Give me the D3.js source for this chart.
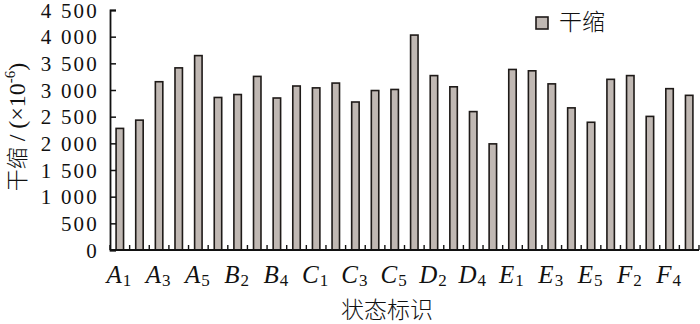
<!DOCTYPE html>
<html>
<head>
<meta charset="utf-8">
<script src="https://cdn.jsdelivr.net/npm/d3@7"></script>
<style>
  body { margin: 0; background: #fff; }
  svg { display: block; }
</style>
</head>
<body>
<svg width="700" height="324"></svg>
<script>
    // categories: A1..F5
    const groups = ['A', 'B', 'C', 'D', 'E', 'F'];
    const categories = groups.flatMap(g => [1, 2, 3, 4, 5].map(n => g + n));
    // dry shrinkage (x10^-6)
    const shrinkage = [
        2280, 2435, 3155, 3415, 3645,
        2860, 2915, 3255, 2850, 3075,
        3040, 3130, 2775, 2990, 3010,
        4030, 3270, 3060, 2595, 1990,
        3385, 3360, 3115, 2665, 2395,
        3200, 3270, 2505, 3025, 2900
    ];
    const yTicks = [0, 500, 1000, 1500, 2000, 2500, 3000, 3500, 4000, 4500];
    const seriesName = '干缩';

    const SERIF = '"Liberation Serif", "DejaVu Serif", serif';
    const CJK = '"Noto Sans CJK SC", sans-serif';

    const svg = d3.select('svg');
    const x0 = 110, x1 = 699, yBase = 250, yTop = 10;

    const x = d3.scaleBand()
        .domain(categories)
        .range([x0, x1])
        .paddingInner(0.62)
        .paddingOuter(0.31);

    const y = d3.scaleLinear()
        .domain([0, 4500])
        .range([yBase, yTop]);

    const fmt = v => {
        const s = String(v);
        return s.length > 3 ? s.slice(0, s.length - 3) + ' ' + s.slice(-3) : s;
    };

    // bars
    svg.append('g')
        .selectAll('rect')
        .data(categories)
        .enter().append('rect')
        .attr('x', d => x(d))
        .attr('y', (d, i) => y(shrinkage[i]))
        .attr('width', x.bandwidth())
        .attr('height', (d, i) => yBase - y(shrinkage[i]))
        .attr('fill', '#c0b8b3')
        .attr('stroke', '#1e1a18')
        .attr('stroke-width', 1.6);

    // y axis
    const yAxis = svg.append('g')
        .attr('transform', 'translate(' + x0 + ',0)')
        .call(d3.axisLeft(y).tickValues(yTicks).tickSize(-6).tickPadding(11).tickFormat(fmt));
    yAxis.select('.domain').attr('stroke', '#111').attr('stroke-width', 1.8);
    yAxis.selectAll('.tick line').attr('stroke', '#111').attr('stroke-width', 1.5);
    yAxis.selectAll('text')
        .attr('fill', '#111')
        .style('font-family', SERIF)
        .style('font-size', '21px')
        .style('letter-spacing', '2.2px')
        .attr('dy', '0.34em');

    // x axis: ticks on the band boundaries, pointing up
    const step = x.step();
    const bounds = d3.range(categories.length + 1).map(i => x0 + i * step);
    const xAxis = svg.append('g');
    xAxis.append('line')
        .attr('x1', x0).attr('x2', x1)
        .attr('y1', yBase).attr('y2', yBase)
        .attr('stroke', '#111').attr('stroke-width', 1.8);
    xAxis.selectAll('line.tk')
        .data(bounds)
        .enter().append('line')
        .attr('class', 'tk')
        .attr('x1', d => d).attr('x2', d => d)
        .attr('y1', yBase).attr('y2', yBase - 5)
        .attr('stroke', '#111').attr('stroke-width', 1.4);

    const labelled = categories.filter((d, i) => i % 2 === 0);
    const lab = xAxis.selectAll('text')
        .data(labelled)
        .enter().append('text')
        .attr('x', d => x(d) + x.bandwidth() / 2 - 1)
        .attr('y', 283)
        .attr('text-anchor', 'middle')
        .attr('fill', '#111')
        .style('font-family', SERIF);
    lab.append('tspan')
        .style('font-style', 'italic')
        .style('font-size', '25px')
        .text(d => d[0]);
    lab.append('tspan')
        .style('font-size', '17px')
        .attr('dx', 1)
        .attr('dy', 3)
        .text(d => d.slice(1));

    // axis titles
    svg.append('text')
        .attr('x', 387)
        .attr('y', 318)
        .attr('text-anchor', 'middle')
        .attr('fill', '#111')
        .style('font-family', CJK)
        .style('font-weight', 300)
        .style('font-size', '23px')
        .text('状态标识');

    const yt = svg.append('text')
        .attr('transform', 'translate(25,127) rotate(-90)')
        .attr('text-anchor', 'middle')
        .attr('fill', '#111')
        .style('font-family', SERIF);
    yt.append('tspan').style('font-family', CJK).style('font-weight', 300).style('font-size', '22px').text('干缩');
    yt.append('tspan').style('font-size', '24px').text(' / (×10');
    yt.append('tspan').style('font-size', '15px').attr('dy', -10).text('-6');
    yt.append('tspan').style('font-size', '24px').attr('dy', 10).text(')');

    // legend
    const lg = svg.append('g').attr('transform', 'translate(536,17)');
    lg.append('rect')
        .attr('width', 12).attr('height', 12)
        .attr('fill', '#c0b8b3')
        .attr('stroke', '#1e1a18')
        .attr('stroke-width', 1.6);
    lg.append('text')
        .attr('x', 23)
        .attr('y', 13)
        .attr('fill', '#111')
        .style('font-family', CJK)
        .style('font-weight', 300)
        .style('font-size', '23px')
        .text(seriesName);
</script>
</body>
</html>
